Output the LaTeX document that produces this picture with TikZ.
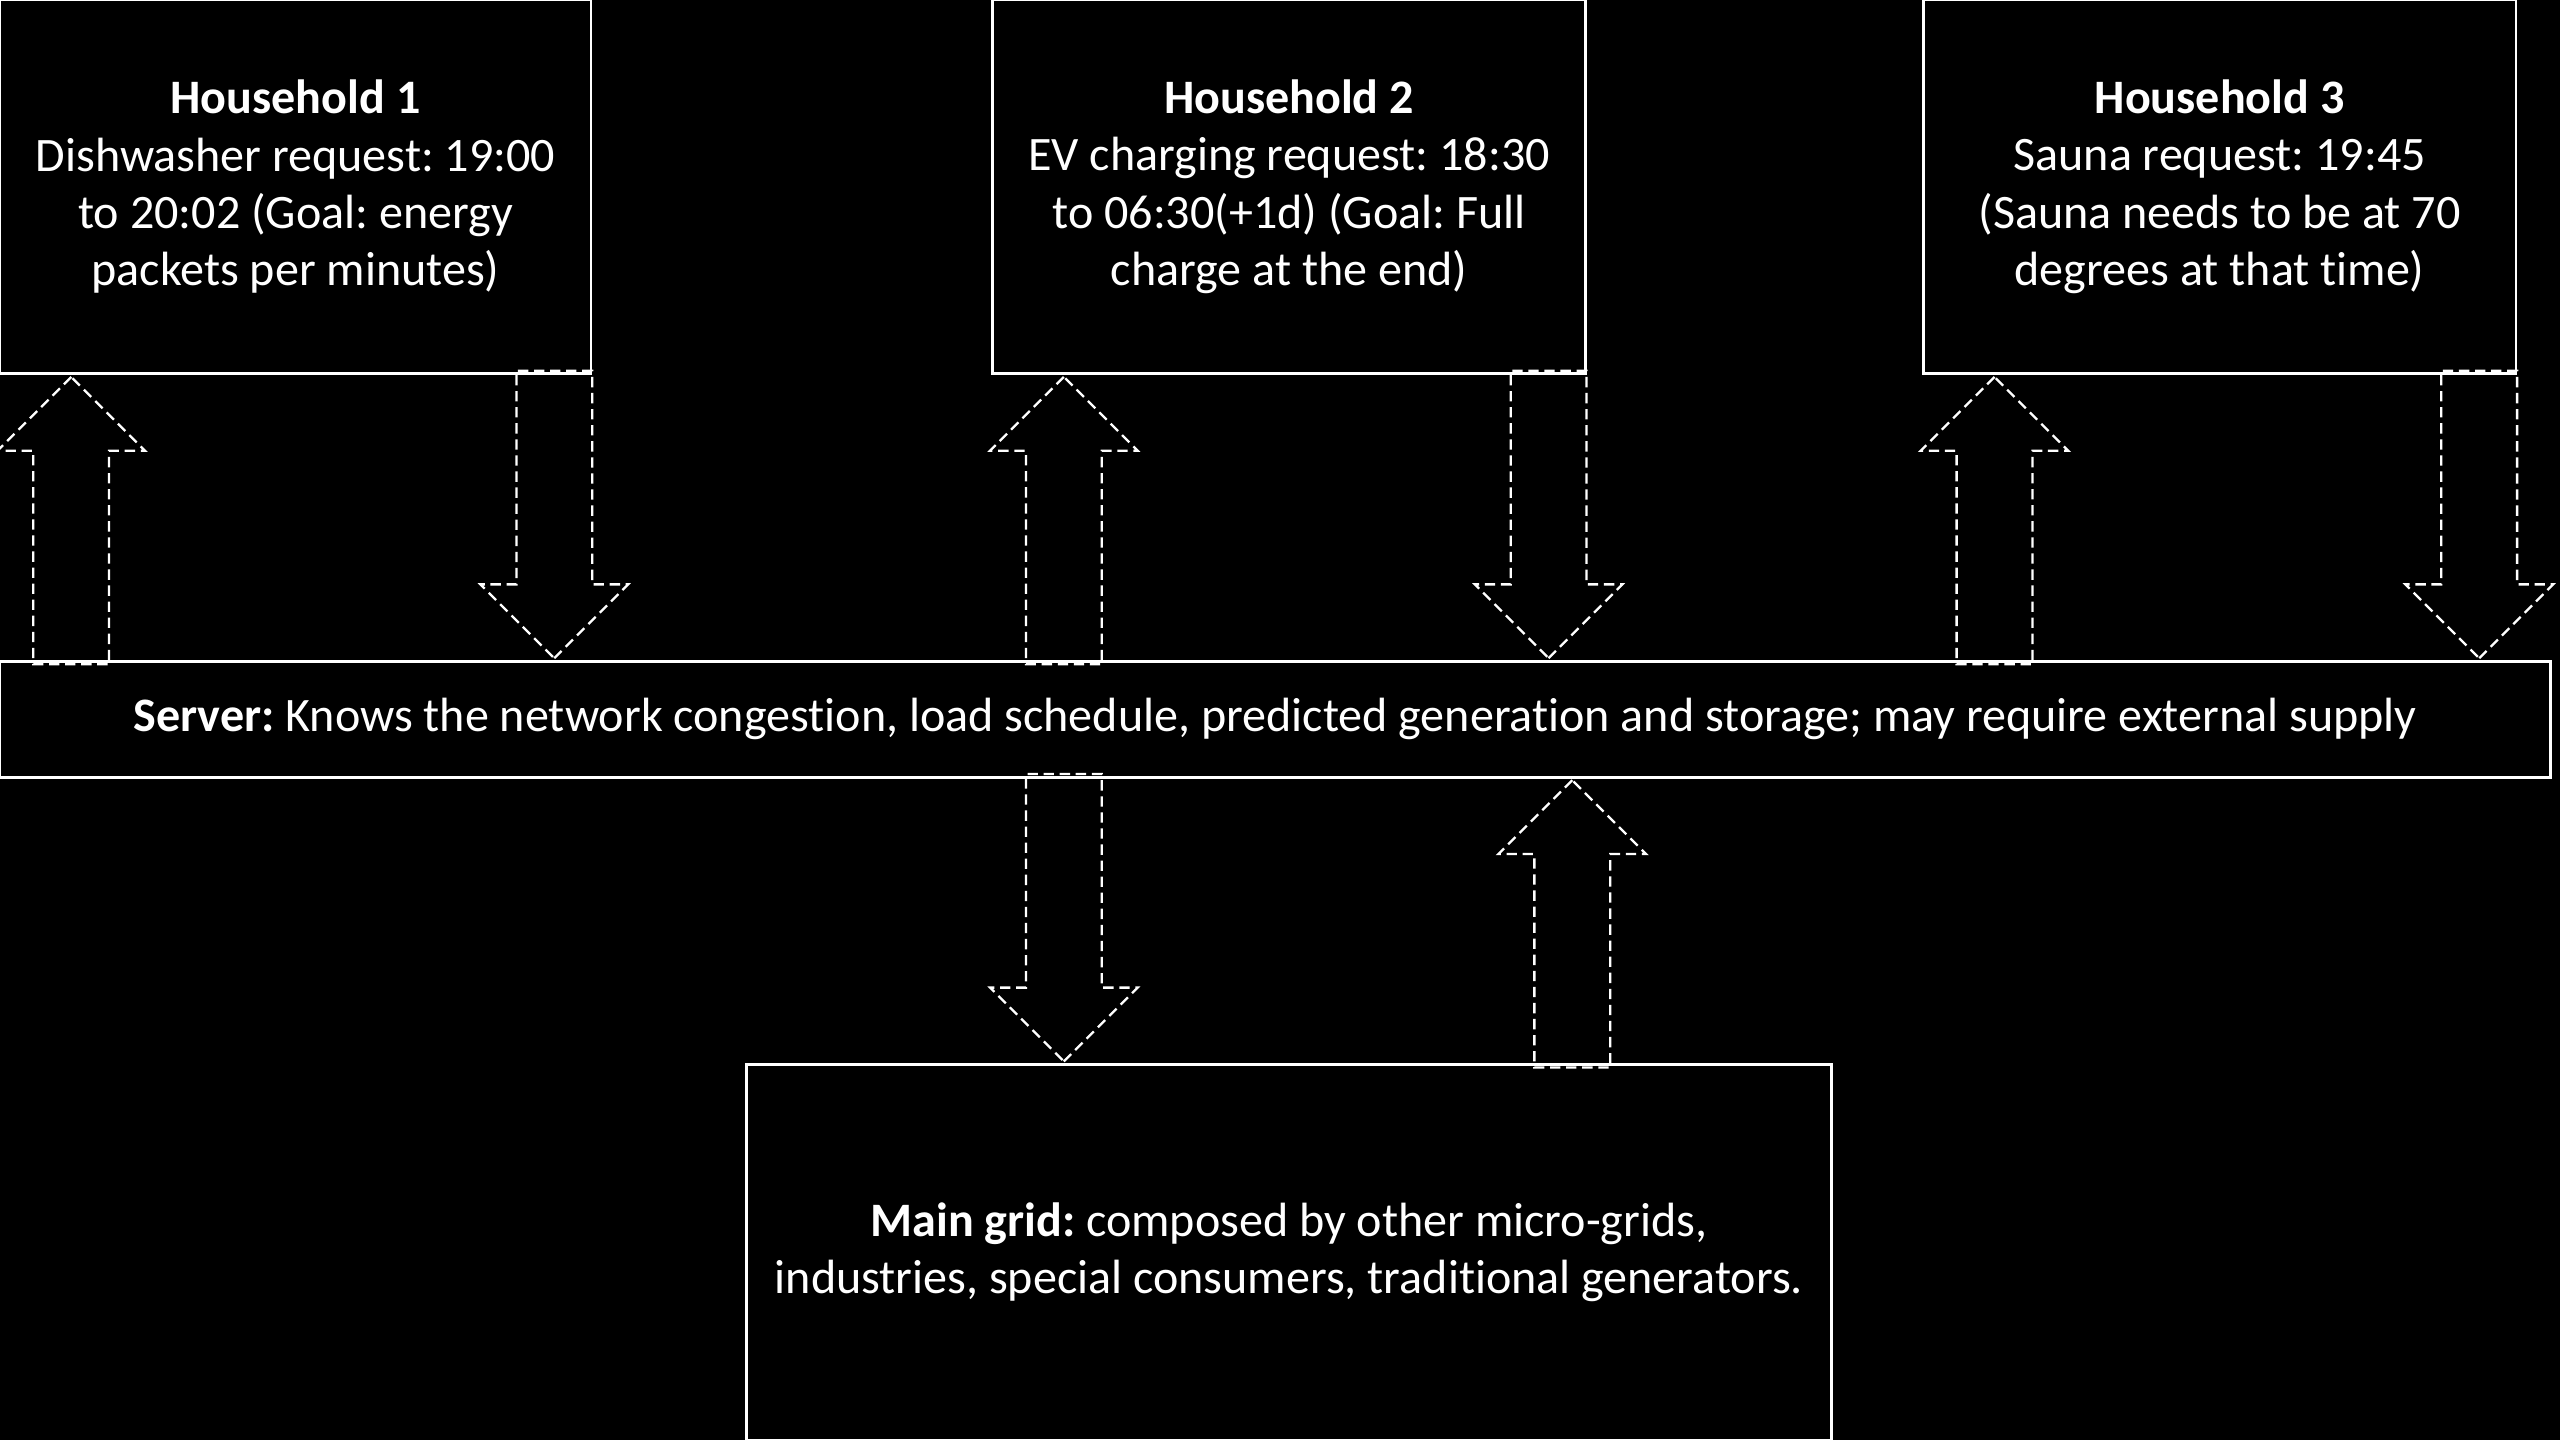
\documentclass[tikz,border=0pt]{standalone}
\usepackage{fontspec}
\setmainfont{Carlito}[Ligatures=NoCommon]
\usepackage{tikz}
\usetikzlibrary{shapes.arrows, calc}
\frenchspacing

\begin{document}
\begin{tikzpicture}[
  box/.style = {rectangle, draw=white, line width=1pt, align=center, text=white, inner sep=0pt, font=\fontsize{16.75}{20}\selectfont},
  flow/.style = {single arrow, draw=white, line width=0.8pt, dash pattern=on 3.6pt off 2pt, minimum height=3.52cm, inner xsep=0pt, inner ysep=0.45cm, single arrow head extend=0.44cm, single arrow tip angle=90},
  flowup/.style = {flow, rotate=90, anchor=tip},
  flowdown/.style = {flow, rotate=-90, anchor=tip}
]

% Canvas
\useasboundingbox (0,0) rectangle (31.36,-17.64);
\fill[black] (0,0) rectangle (31.36,-17.64);

% Row 1: households
\node[box, minimum width=7.24cm, minimum height=4.58cm] at (3.62,-2.29) (hh1) {\textbf{Household 1}\\Dishwasher request: 19:00\\to 20:02 (Goal: energy\\packets per minutes)};
\node[box, minimum width=7.26cm, minimum height=4.58cm] at (15.79,-2.29) (hh2) {\textbf{Household 2}\\EV charging request: 18:30\\to 06:30(+1d) (Goal: Full\\charge at the end)};
\node[box, minimum width=7.26cm, minimum height=4.58cm] at (27.19,-2.29) (hh3) {\textbf{Household 3}\\Sauna request: 19:45\\(Sauna needs to be at 70\\degrees at that time)};

% Row 2: server
\node[box, minimum width=31.24cm, minimum height=1.42cm] at (15.62,-8.81) (server) {\textbf{Server:} Knows the network congestion, load schedule, predicted generation and storage; may require external supply};

% Row 3: main grid
\node[box, minimum width=13.3cm, minimum height=4.6cm] at (15.79,-15.34) (grid) {\textbf{Main grid:} composed by other micro-grids,\\industries, special consumers, traditional generators.};

% Arrows between households and server
\node[flowup] (up1) at ($(hh1.south west)+(0.89,0)$) {};
\node[flowdown] (down1) at (6.79,0 |- server.north) {};
\node[flowup] (up2) at ($(hh2.south west)+(0.89,0)$) {};
\node[flowdown] (down2) at (18.97,0 |- server.north) {};
\node[flowup] (up3) at ($(hh3.south west)+(0.89,0)$) {};
\node[flowdown] (down3) at (30.37,0 |- server.north) {};

% Arrows between server and main grid
\node[flowdown] (togrid) at (up2.tip |- grid.north) {};
\node[flowup] (fromgrid) at (19.26,0 |- server.south) {};

\end{tikzpicture}
\end{document}
